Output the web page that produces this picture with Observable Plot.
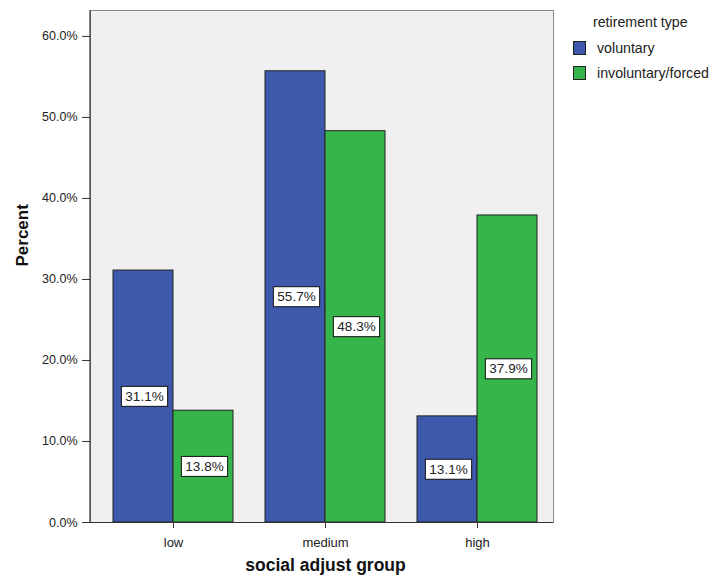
<!DOCTYPE html>
<html>
<head>
<meta charset="utf-8">
<script src="https://cdn.jsdelivr.net/npm/d3@7"></script>
<script src="https://cdn.jsdelivr.net/npm/@observablehq/plot@0.6"></script>
<style>
  html, body { margin: 0; padding: 0; background: #fff; }
  #wrap { position: relative; width: 719px; height: 583px; font-family: "Liberation Sans", Arial, sans-serif; }
  #legend { position: absolute; left: 573px; top: 13px; color: #222; font-size: 14.2px; }
  #legend .title { margin-left: 20px; line-height: 18px; margin-bottom: 5px; }
  #legend .item { display: flex; align-items: center; height: 24.5px; }
  #legend .sw { width: 13px; height: 14px; border: 1px solid #222; box-sizing: border-box; margin-right: 11px; }
</style>
</head>
<body>
<div id="wrap"></div>
<script>
// ---- data ----
const groups = ["low", "medium", "high"];
const seriesNames = ["voluntary", "involuntary/forced"];
const voluntary = [31.1, 55.7, 13.1];
const involuntary = [13.8, 48.3, 37.9];
const yTicks = [0, 10, 20, 30, 40, 50, 60];
const colors = ["#3e58ac", "#35b54a"];

const volData = groups.map((g, i) => ({group: g, type: seriesNames[0], value: voluntary[i]}));
const invData = groups.map((g, i) => ({group: g, type: seriesNames[1], value: involuntary[i]}));
const fmt = v => v.toFixed(1) + "%";

const plot = Plot.plot({
  width: 719,
  height: 583,
  marginLeft: 90,
  marginRight: 166,
  marginTop: 10,
  marginBottom: 61,
  style: {fontFamily: "Liberation Sans, Arial, sans-serif", background: "transparent", color: "#222"},
  x: {domain: groups, range: [97, 553], paddingInner: 0.21, paddingOuter: 0.105, label: null},
  y: {domain: [0, 63.2], label: null},
  marks: [
    Plot.frame({fill: "#f0f0f0", stroke: "#8a8a8a"}),
    Plot.barY(volData, {x: "group", y: "value", fill: colors[0], stroke: "#222", strokeWidth: 1, insetRight: 60}),
    Plot.barY(invData, {x: "group", y: "value", fill: colors[1], stroke: "#222", strokeWidth: 1, insetLeft: 60}),
    Plot.ruleY([0], {stroke: "#333", strokeWidth: 1.2}),
    Plot.axisY({ticks: yTicks, tickFormat: fmt, tickSize: 8, tickPadding: 5, fontSize: 12.5, label: null, stroke: "#333"}),
    Plot.axisX({tickSize: 6, tickPadding: 9, fontSize: 13, label: null, stroke: "#333"}),
    Plot.text(volData, {x: "group", y: d => d.value / 2, text: d => fmt(d.value), dx: -29, fontSize: 13.5, fill: "#222", className: "vlabel"}),
    Plot.text(invData, {x: "group", y: d => d.value / 2, text: d => fmt(d.value), dx: 31, fontSize: 13.5, fill: "#222", className: "vlabel"}),
    Plot.text(["Percent"], {frameAnchor: "left", dx: -68, rotate: -90, fontSize: 17, fontWeight: "bold", fill: "#111"}),
    Plot.text(["social adjust group"], {frameAnchor: "bottom", dx: 3.5, dy: 48, fontSize: 17.5, fontWeight: "bold", fill: "#111"})
  ]
});

const wrap = document.getElementById("wrap");
wrap.appendChild(plot);

// left axis line (dark)
const ys = plot.scale("y");
d3.select(plot).append("line")
  .attr("x1", 90).attr("x2", 90)
  .attr("y1", ys.apply(63.2)).attr("y2", ys.apply(0))
  .attr("stroke", "#333").attr("stroke-width", 1.2);

// white boxes behind value labels
d3.select(plot).selectAll("g.vlabel text, .vlabel text").each(function() {
  const b = this.getBBox();
  const padX = 4, padY = 2.5;
  d3.select(this.parentNode).insert("rect", () => this)
    .attr("x", b.x - padX).attr("y", b.y - padY)
    .attr("width", b.width + 2 * padX).attr("height", b.height + 2 * padY)
    .attr("fill", "#fff").attr("stroke", "#111").attr("stroke-width", 1)
    .attr("transform", this.getAttribute("transform"));
});

// legend
const legend = d3.select(wrap).append("div").attr("id", "legend");
legend.append("div").attr("class", "title").text("retirement type");
seriesNames.forEach((n, i) => {
  const it = legend.append("div").attr("class", "item");
  it.append("div").attr("class", "sw").style("background", colors[i]);
  it.append("span").text(n);
});
</script>
</body>
</html>
